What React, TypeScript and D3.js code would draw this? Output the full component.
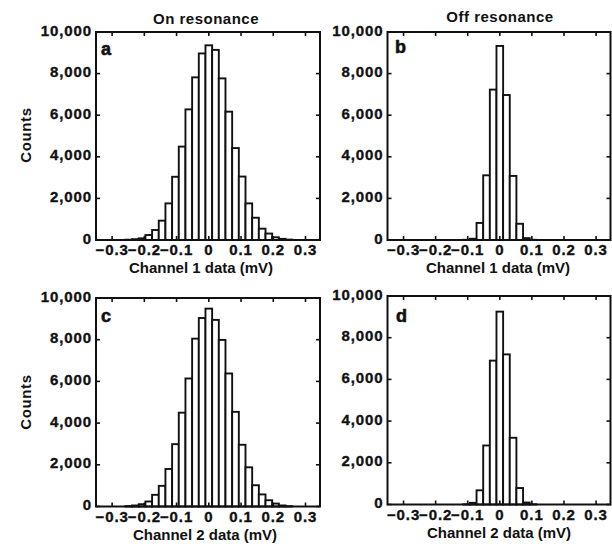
import React from "react";
import * as d3 from "d3";

// Histogram bin width (mV) and bin indices relative to 0
const binWidth = 0.0207;
const binsWide = d3.range(-12, 13);
const binsNarrow = d3.range(-5, 6);

// Counts
const countsA = [15, 40, 80, 240, 480, 930, 1760, 3040, 4490, 6280, 7820, 8970, 9360, 9140, 7770, 6170, 4420, 3050, 1760, 1070, 545, 310, 130, 55, 20];
const countsB = [10, 60, 820, 3110, 7230, 9330, 6970, 3080, 780, 90, 10];
const countsC = [20, 50, 110, 240, 560, 990, 1800, 2990, 4500, 6140, 8050, 9040, 9490, 8950, 7990, 6380, 4540, 2960, 1880, 1020, 580, 300, 140, 50, 15];
const countsD = [10, 80, 680, 2830, 6900, 9250, 7200, 3200, 790, 95, 10];

const xTicks = [-0.3, -0.2, -0.1, 0, 0.1, 0.2, 0.3];
const yTicks = [0, 2000, 4000, 6000, 8000, 10000];
const xDomain: [number, number] = [-0.35, 0.345];
const yDomain: [number, number] = [0, 10000];

const titles = ["On resonance", "Off resonance"];
const xLabels = ["Channel 1 data (mV)", "Channel 2 data (mV)"];
const yLabel = "Counts";
const panelLetters = ["a", "b", "c", "d"];

const FONT = "'Liberation Sans', Arial, Helvetica, sans-serif";
const INK = "#111";

const fmtX = (v: number) => (v === 0 ? "0" : d3.format(".1f")(v).replace("-", "\u2212"));
const fmtY = d3.format(",");

type PanelProps = {
  x0: number; x1: number; y0: number; y1: number;
  bins: number[]; counts: number[];
  letter: string; letterX: number; letterY: number;
  xLabel: string; xLabelX: number;
  showYLabel: boolean; yLabelY: number;
  title?: string; titleX?: number; titleY?: number;
};

const tickText = {
  fontFamily: FONT, fontWeight: "bold" as const, fontSize: 15, letterSpacing: 0.9,
  fill: INK, stroke: INK, strokeWidth: 0.35,
};

function Panel(p: PanelProps) {
  const x = d3.scaleLinear().domain(xDomain).range([p.x0, p.x1]);
  const y = d3.scaleLinear().domain(yDomain).range([p.y1, p.y0]);
  const tl = 4;
  return (
    <g>
      {p.bins.map((b, i) => {
        const xa = x(b * binWidth - binWidth / 2);
        const xb = x(b * binWidth + binWidth / 2);
        const yt = y(p.counts[i]);
        return (
          <rect key={i} x={xa} y={yt} width={xb - xa} height={y(0) - yt}
            fill="#fff" stroke={INK} strokeWidth={1.9} />
        );
      })}
      <rect x={p.x0} y={p.y0} width={p.x1 - p.x0} height={p.y1 - p.y0}
        fill="none" stroke={INK} strokeWidth={2} />
      {xTicks.map((t) => (
        <g key={"xt" + t}>
          <line x1={x(t)} x2={x(t)} y1={p.y0} y2={p.y0 + tl} stroke={INK} strokeWidth={1.6} />
          <line x1={x(t)} x2={x(t)} y1={p.y1} y2={p.y1 - tl} stroke={INK} strokeWidth={1.6} />
          <text x={x(t)} y={p.y1 + 15} textAnchor="middle" {...tickText}>{fmtX(t)}</text>
        </g>
      ))}
      {yTicks.map((t) => (
        <g key={"yt" + t}>
          <line x1={p.x0} x2={p.x0 + tl} y1={y(t)} y2={y(t)} stroke={INK} strokeWidth={1.6} />
          <line x1={p.x1} x2={p.x1 - tl} y1={y(t)} y2={y(t)} stroke={INK} strokeWidth={1.6} />
          <text x={p.x0 - 4} y={y(t) + 3.5} textAnchor="end" {...tickText}>{fmtY(t)}</text>
        </g>
      ))}
      <text x={p.letterX} y={p.letterY} fontFamily={FONT} fontWeight="bold" fontSize={18}
        fill={INK} stroke={INK} strokeWidth={0.6}>{p.letter}</text>
      <text x={p.xLabelX} y={p.y1 + 33} textAnchor="middle" fontFamily={FONT} fontWeight="bold"
        fontSize={15} fill={INK}>{p.xLabel}</text>
      {p.showYLabel && (
        <text transform={`translate(31,${p.yLabelY}) rotate(-90)`} textAnchor="middle" fontFamily={FONT}
          fontWeight="bold" fontSize={15} letterSpacing={0.6} fill={INK}>{yLabel}</text>
      )}
      {p.title && (
        <text x={p.titleX} y={p.titleY} textAnchor="middle" fontFamily={FONT} fontWeight="bold"
          fontSize={15} letterSpacing={0.5} fill={INK}>{p.title}</text>
      )}
    </g>
  );
}

export default function App() {
  return (
    <svg width={612} height={548} style={{ position: "absolute", left: 0, top: 0, background: "#fff" }}>
      <Panel x0={96} x1={320} y0={32} y1={240} bins={binsWide} counts={countsA}
        letter={panelLetters[0]} letterX={101} letterY={55}
        xLabel={xLabels[0]} xLabelX={201} showYLabel yLabelY={135}
        title={titles[0]} titleX={206} titleY={24} />
      <Panel x0={387.5} x1={610.5} y0={32} y1={240} bins={binsNarrow} counts={countsB}
        letter={panelLetters[1]} letterX={395} letterY={53}
        xLabel={xLabels[0]} xLabelX={498} showYLabel={false} yLabelY={135}
        title={titles[1]} titleX={500} titleY={22} />
      <Panel x0={96} x1={320} y0={298} y1={506.5} bins={binsWide} counts={countsC}
        letter={panelLetters[2]} letterX={101} letterY={322}
        xLabel={xLabels[1]} xLabelX={205} showYLabel yLabelY={402} />
      <Panel x0={387.5} x1={610.5} y0={296} y1={504.5} bins={binsNarrow} counts={countsD}
        letter={panelLetters[3]} letterX={396} letterY={321.5}
        xLabel={xLabels[1]} xLabelX={499} showYLabel={false} yLabelY={402} />
    </svg>
  );
}
